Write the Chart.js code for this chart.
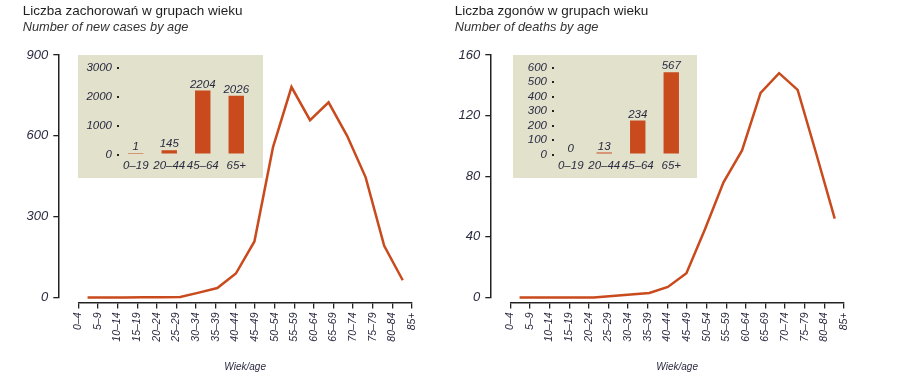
<!DOCTYPE html>
<html>
<head>
<meta charset="utf-8">
<script src="https://cdn.jsdelivr.net/npm/chart.js@4"></script>
<style>
body { margin: 0; background: #fff; }
#wrap { position: relative; width: 905px; height: 387px; overflow: hidden; }
.panel { position: absolute; top: 0; width: 440px; height: 387px; }
.panel canvas { position: absolute; }
</style>
</head>
<body>
<div id="wrap">
	<div class="panel" style="left:0">
		<canvas id="casesChart" width="440" height="387" style="left:0;top:0"></canvas>
		<canvas id="casesInset" width="185" height="123" style="left:78px;top:55px"></canvas>
	</div>
	<div class="panel" style="left:432px">
		<canvas id="deathsChart" width="440" height="387" style="left:0;top:0"></canvas>
		<canvas id="deathsInset" width="184" height="123" style="left:81px;top:55px"></canvas>
	</div>
</div>
<script>
// Age groups (5-year bands)
const ageGroups = ['0–4', '5–9', '10–14', '15–19', '20–24', '25–29', '30–34', '35–39', '40–44',
	'45–49', '50–54', '55–59', '60–64', '65–69', '70–74', '75–79', '80–84', '85+'];

// Series values
const newCases = [0, 0, 0, 1, 1, 2, 18, 35, 89, 208, 557, 781, 658, 724, 600, 446, 192, 64];
const deaths = [0, 0, 0, 0, 0, 1, 2, 3, 7, 16, 45, 76, 97, 135, 148, 137, 95, 52];

// Broad groups for the insets
const broadGroups = ['0–19', '20–44', '45–64', '65+'];
const casesBroad = [1, 145, 2204, 2026];
const deathsBroad = [0, 13, 234, 567];

// Tick values
const casesTicks = [0, 300, 600, 900];
const deathsTicks = [0, 40, 80, 120, 160];
const casesInsetTicks = [0, 1000, 2000, 3000];
const deathsInsetTicks = [0, 100, 200, 300, 400, 500, 600];

const family = "'Liberation Sans', Arial, sans-serif";
const orange = '#c94a1d';
const axisColor = '#222222';
const tickColor = '#2a2a40';
const beige = '#e2e1cc';

function setTicks(list) {
	return scale => {
		scale.ticks = list.map(v => ({value: v}));
	};
}

function mainChart(id, title, subtitle, values, yTicks) {
	return new Chart(document.getElementById(id), {
		type: 'line',
		data: {
			labels: ageGroups,
			datasets: [{
				data: values,
				borderColor: orange,
				borderWidth: 2.5,
				pointRadius: 0,
				tension: 0,
				fill: false,
				clip: false
			}]
		},
		options: {
			responsive: false,
			animation: false,
			events: [],
			layout: {padding: {left: 22.7, right: 28, top: 0, bottom: 13.7}},
			plugins: {
				legend: {display: false},
				tooltip: {enabled: false},
				title: {
					display: true, text: title, align: 'start', color: '#1e1e1e',
					font: {family, size: 13.5, weight: 'normal'},
					padding: {top: 3, bottom: 0}
				},
				subtitle: {
					display: true, text: subtitle, align: 'start', color: '#333333',
					font: {family, size: 12.8, style: 'italic'},
					padding: {top: 1, bottom: 19.4}
				}
			},
			scales: {
				// band axis for the line (points sit in the middle of each band)
				x: {
					type: 'category', offset: true, position: 'bottom', weight: 0,
					ticks: {display: false}, grid: {display: false}, border: {display: false},
					afterFit: s => { s.height = 5; }
				},
				// visible axis with the age labels
				ages: {
					type: 'linear', position: 'bottom', weight: 1,
					min: 0, max: ageGroups.length - 1,
					afterBuildTicks: setTicks(ageGroups.map((_, i) => i)),
					ticks: {
						autoSkip: false, minRotation: 90, maxRotation: 90, padding: 4,
						color: tickColor, font: {family, size: 10.5, style: 'italic'},
						callback: v => ageGroups[v]
					},
					grid: {drawOnChartArea: false, tickLength: 6, color: axisColor, lineWidth: 1.3},
					border: {color: axisColor, width: 1.5},
					title: {
						display: true, text: 'Wiek/age', color: tickColor, padding: 0,
						font: {family, size: 10, style: 'italic'}
					},
					afterFit: s => { s.height = 70.8; }
				},
				y: {
					position: 'left', weight: 1,
					min: yTicks[0], max: yTicks[yTicks.length - 1],
					afterBuildTicks: setTicks(yTicks),
					ticks: {padding: 5, color: tickColor, font: {family, size: 13, style: 'italic'}},
					grid: {drawOnChartArea: false, tickLength: 5, color: axisColor, lineWidth: 1.3},
					border: {color: axisColor, width: 1.5},
					afterFit: s => { s.width = 35.6; }
				},
				// gap between the value axis and the plot
				ys: {
					type: 'linear', position: 'left', weight: 0,
					ticks: {display: false}, grid: {display: false}, border: {display: false},
					afterFit: s => { s.width = 20; }
				}
			}
		}
	});
}

const insetBackground = {
	id: 'insetBackground',
	beforeDraw(chart) {
		const {ctx, width, height} = chart;
		ctx.save();
		ctx.fillStyle = beige;
		ctx.fillRect(0, 0, width, height);
		ctx.restore();
	}
};

const barValues = {
	id: 'barValues',
	afterDatasetsDraw(chart) {
		const {ctx} = chart;
		const values = chart.data.datasets[0].data;
		ctx.save();
		ctx.font = 'italic 11.5px ' + family;
		ctx.fillStyle = tickColor;
		ctx.textAlign = 'center';
		ctx.textBaseline = 'alphabetic';
		chart.getDatasetMeta(0).data.forEach((bar, i) => {
			ctx.fillText(values[i], bar.x, bar.y - 3);
		});
		ctx.restore();
	}
};

function insetChart(id, values, yTicks, minBar) {
	const canvas = document.getElementById(id);
	return new Chart(canvas, {
		type: 'bar',
		data: {
			labels: broadGroups,
			datasets: [{
				data: values,
				backgroundColor: orange,
				barPercentage: 0.46,
				categoryPercentage: 1,
				minBarLength: minBar
			}]
		},
		options: {
			responsive: false,
			animation: false,
			events: [],
			layout: {padding: {left: 0, right: canvas.width - 175, top: 12.5, bottom: 0}},
			plugins: {legend: {display: false}, tooltip: {enabled: false}},
			scales: {
				x: {
					grid: {display: false, drawTicks: false, tickLength: 0}, border: {display: false},
					ticks: {
						padding: 4, autoSkip: false, minRotation: 0, maxRotation: 0,
						color: tickColor, font: {family, size: 11.5, style: 'italic'}
					},
					afterFit: s => { s.height = 23.5; }
				},
				y: {
					min: yTicks[0], max: yTicks[yTicks.length - 1],
					afterBuildTicks: setTicks(yTicks),
					ticks: {
						padding: 5, autoSkip: false, callback: v => String(v),
						color: tickColor, font: {family, size: 11.5, style: 'italic'}
					},
					grid: {drawOnChartArea: false, tickLength: 2, lineWidth: 2, color: axisColor},
					border: {display: false},
					afterFit: s => { s.width = 41; }
				}
			}
		},
		plugins: [insetBackground, barValues]
	});
}

mainChart('casesChart', 'Liczba zachorowań w grupach wieku', 'Number of new cases by age', newCases, casesTicks);
mainChart('deathsChart', 'Liczba zgonów w grupach wieku', 'Number of deaths by age', deaths, deathsTicks);
insetChart('casesInset', casesBroad, casesInsetTicks, 1.5);
insetChart('deathsInset', deathsBroad, deathsInsetTicks, 0);
</script>
</body>
</html>
